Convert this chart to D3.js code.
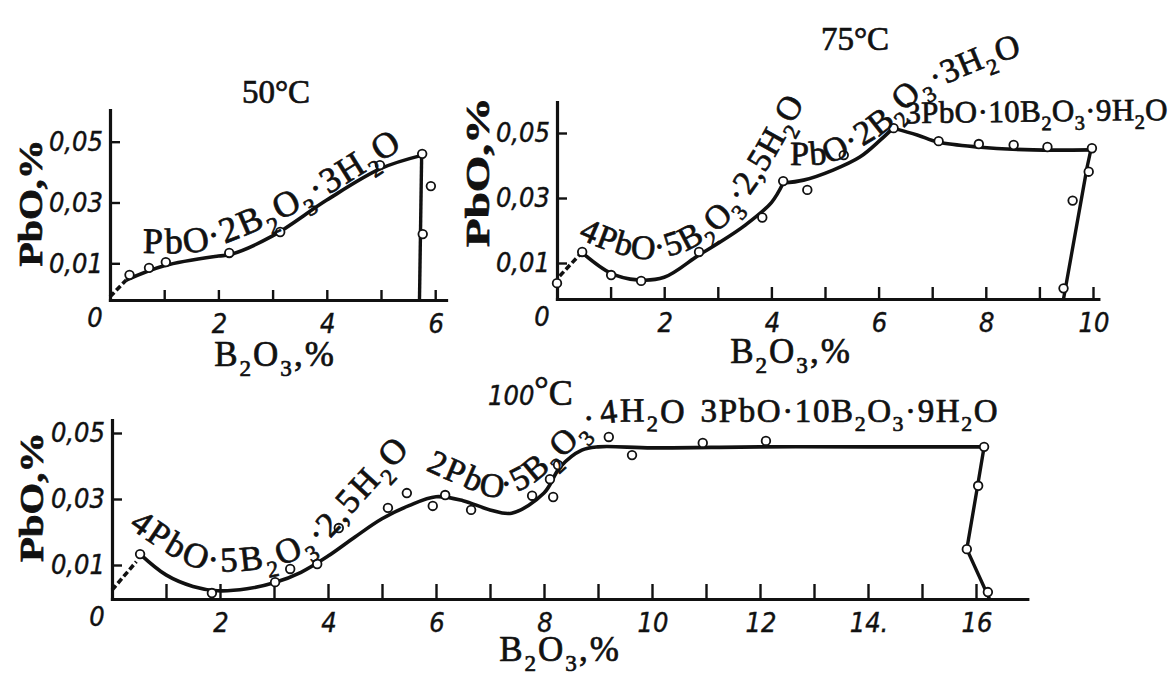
<!DOCTYPE html>
<html>
<head>
<meta charset="utf-8">
<script src="https://cdn.jsdelivr.net/npm/d3@7"></script>
<style>
  html, body { margin: 0; background: #fff; }
  svg { display: block; }
  .tick-lab { font-family: "DejaVu Sans Condensed", "Liberation Sans Narrow", "DejaVu Sans", sans-serif; font-stretch: condensed; font-style: italic; font-size: 27px; fill: #111; stroke: #111; stroke-width: 0.4; }
  .serif { font-family: "Liberation Serif", "DejaVu Serif", serif; fill: #111; stroke: #111; stroke-width: 0.7; }
</style>
</head>
<body>
<svg id="chart" width="1175" height="677"></svg>
<script>
// shared y ticks (PbO, %)
const yTickVals = [0.01, 0.03, 0.05];
const yTickLabels = ["0,01", "0,03", "0,05"];

// ---------- 50 °C ----------
const xTicks50 = [1, 2, 3, 4, 5, 6];
const xLabelVals50 = [0, 2, 4, 6];
const xLabels50 = ["0", "2", "4", "6"];
const points50 = [[0.36, 0.0062], [0.72, 0.0085], [1.03, 0.0104], [2.2, 0.0134], [3.14, 0.0203],
  [4.98, 0.0423], [5.76, 0.046], [5.92, 0.0354], [5.77, 0.0196]];
const lead50 = [[0.0, -0.001], [0.3, 0.0045]];
const curve50 = [[[0.3, 0.0045], [1.0, 0.0092], [2.0, 0.0124], [2.2, 0.0128], [3.0, 0.019],
  [4.0, 0.0308], [5.0, 0.0412], [5.75, 0.0455]]];
const drop50 = [[5.75, 0.0455], [5.71, -0.0021]];
const formulas50 = [
  { text: "PbO·2B_2O_3·3H_2O",
    path: [[0.61, 0.0134], [1.61, 0.0138], [2.21, 0.0171], [3.27, 0.0253], [4.24, 0.0348], [5.35, 0.0473], [5.63, 0.0506]] }
];

// ---------- 75 °C ----------
const xTicks75 = [1, 2, 3, 4, 5, 6, 7, 8, 9, 10];
const xLabelVals75 = [0, 2, 4, 6, 8, 10];
const xLabels75 = ["0", "2", "4", "6", "8", "10"];
const points75 = [[0, 0.0038], [0.47, 0.0134], [1.01, 0.0063], [1.57, 0.0045], [2.65, 0.0134],
  [3.83, 0.024], [4.22, 0.0352], [4.67, 0.0325], [5.35, 0.0432], [6.28, 0.0515], [7.12, 0.0475],
  [7.87, 0.0466], [8.52, 0.0463], [9.15, 0.0457], [9.98, 0.0453], [9.92, 0.0381], [9.62, 0.0292],
  [9.45, 0.0022]];
const lead75 = [[0.05, 0.006], [0.42, 0.0125]];
const curve75 = [
  [[0.46, 0.0133], [1.0, 0.0069], [1.5, 0.0048], [2.0, 0.0056], [2.65, 0.0125], [3.0, 0.016],
   [3.5, 0.0215], [4.0, 0.0286], [4.22, 0.0346]],
  [[4.22, 0.0346], [4.6, 0.0355], [5.15, 0.0386], [5.65, 0.0426], [6.03, 0.0478], [6.27, 0.0515]],
  [[6.27, 0.0515], [6.72, 0.0494], [7.11, 0.0472], [7.85, 0.0457], [8.88, 0.0448], [9.96, 0.0448]]
];
const drop75 = [[9.96, 0.0448], [9.89, 0.0395], [9.45, -0.0011]];
const formulas75 = [
  { text: "4PbO·5B_2O_3·2,5H_2O",
    path: [[0.39, 0.0177], [1.03, 0.0134], [1.7, 0.0112], [2.44, 0.014], [3.08, 0.0208], [3.6, 0.0309], [4.03, 0.0417], [4.53, 0.0565], [4.8, 0.064]] },
  { text: "PbO·2B_2O_3·3H_2O",
    path: [[4.35, 0.0402], [5.09, 0.0408], [5.65, 0.0454], [6.21, 0.0515], [6.77, 0.0608], [7.52, 0.0669], [8.26, 0.0718], [8.73, 0.074]] },
  { text: "3PbO·10B_2O_3·9H_2O",
    path: [[6.5, 0.053], [11.2, 0.054]] }
];

// ---------- 100 °C ----------
const xTicks100 = [1, 2, 3, 4, 5, 6, 7, 8, 9, 10, 11, 12, 13, 14, 15, 16];
const xLabelVals100 = [0, 2, 4, 6, 8, 10, 12, 14, 16];
const xLabels100 = ["0", "2", "4", "6", "8", "10", "12", "14.", "16"];
const points100 = [[0.52, 0.0133], [1.85, 0.0015], [3.02, 0.0048], [3.3, 0.0088], [3.8, 0.0103],
  [4.2, 0.0212], [5.11, 0.0273], [5.46, 0.0318], [5.94, 0.0279], [6.17, 0.0312], [6.65, 0.0267],
  [7.78, 0.031], [8.11, 0.036], [8.17, 0.0306], [8.26, 0.0403], [9.2, 0.0488], [9.63, 0.0433],
  [10.94, 0.047], [12.11, 0.0476], [16.15, 0.0458], [16.04, 0.034], [15.83, 0.0148], [16.22, 0.0018]];
const lead100 = [[0.0, 0.0024], [0.45, 0.011]];
const curve100 = [[[0.52, 0.0133], [1.0, 0.007], [1.5, 0.0035], [1.95, 0.0022], [2.5, 0.0028],
  [3.0, 0.0046], [3.5, 0.0078], [4.0, 0.0127], [4.5, 0.0185], [5.0, 0.024], [5.5, 0.028],
  [6.0, 0.0307], [6.5, 0.0295], [7.0, 0.0267], [7.4, 0.0257], [8.0, 0.0318], [8.3, 0.0397],
  [8.7, 0.0448], [9.0, 0.0458], [10.0, 0.0455], [12.0, 0.0458], [14.0, 0.0458], [16.15, 0.0458]]];
const drop100 = [[16.15, 0.0458], [16.03, 0.034], [15.83, 0.0148], [16.25, -0.0003]];
const formulas100 = [
  { text: "4PbO·5B_2O_3·2,5H_2O",
    path: [[0.3, 0.0215], [0.98, 0.0139], [1.63, 0.0088], [2.37, 0.0082], [3.3, 0.0109], [4.04, 0.0182], [4.59, 0.0282], [5.56, 0.0455]] },
  { text: "2PbO·5B_2O_3·4H_2O",
    path: [[5.8, 0.0388], [6.44, 0.0342], [7.09, 0.0306], [7.65, 0.0333], [8.11, 0.0388], [8.67, 0.0473], [9.04, 0.0524], [10.52, 0.053]] },
  { text: "3PbO·10B_2O_3·9H_2O",
    path: [[10.9, 0.0533], [16.9, 0.0533]] }
];

const svg = d3.select("#chart");
const defs = svg.append("defs");
const ink = "#111";

// text with chemical subscripts, "_2" -> subscript 2
function addFormula(parent, str, fs) {
  let wasSub = false;
  str.split(/(_\d)/).filter(s => s).forEach(s => {
    const isSub = s[0] === "_";
    const t = parent.append("tspan").text(isSub ? s.slice(1) : s);
    if (isSub) t.attr("font-size", fs * 0.66).attr("dy", fs * 0.28);
    else if (wasSub) t.attr("dy", -fs * 0.28);
    wasSub = isSub;
  });
}

let pathId = 0;

function drawPanel(p) {
  const g = svg.append("g");

  const x = d3.scaleLinear().domain([0, p.xEnd]).range([p.left, p.left + p.xEnd * p.ppu]);
  const vAxis = (p.zeroY - p.axisY) / p.pp01 * 0.01;
  const vTop = (p.zeroY - p.topY) / p.pp01 * 0.01;
  const y = d3.scaleLinear().domain([vAxis, vTop]).range([p.axisY, p.topY]);

  // axes, ticks pointing inward
  const gx = g.append("g").attr("transform", `translate(0,${p.axisY})`)
    .call(d3.axisBottom(x).tickValues(p.xTicks).tickSize(-p.tickLen).tickSizeOuter(0).tickFormat(""));
  const gy = g.append("g").attr("transform", `translate(${p.left},0)`)
    .call(d3.axisLeft(y).tickValues(yTickVals).tickSize(-10).tickSizeOuter(0).tickFormat(""));
  [gx, gy].forEach(a => {
    a.select(".domain").attr("stroke", ink).attr("stroke-width", 3.2).attr("stroke-linecap", "square");
    a.selectAll(".tick line").attr("stroke", ink).attr("stroke-width", 2.4);
  });

  // tick labels
  g.selectAll(".xlab").data(p.xLabelVals).join("text")
    .attr("class", "tick-lab")
    .attr("x", d => d === 0 ? x(d) - 15 : x(d) + 1)
    .attr("y", d => d === 0 ? p.axisY + 18 : p.axisY + 24)
    .attr("text-anchor", "middle").attr("dy", "0.35em")
    .text((d, i) => p.xLabels[i]);

  g.selectAll(".ylab").data(yTickVals).join("text")
    .attr("class", "tick-lab")
    .attr("x", p.left - 7).attr("y", d => y(d))
    .attr("text-anchor", "end").attr("dy", "0.35em")
    .text((d, i) => yTickLabels[i]);

  // curves
  const smooth = d3.line().x(d => x(d[0])).y(d => y(d[1])).curve(d3.curveCatmullRom.alpha(0.5));
  const straight = d3.line().x(d => x(d[0])).y(d => y(d[1]));

  p.curves.forEach(c => g.append("path").attr("d", smooth(c))
    .attr("fill", "none").attr("stroke", ink).attr("stroke-width", 3.6).attr("stroke-linejoin", "round"));
  g.append("path").attr("d", straight(p.drop))
    .attr("fill", "none").attr("stroke", ink).attr("stroke-width", 3.4).attr("stroke-linejoin", "round");
  g.append("path").attr("d", straight(p.lead))
    .attr("fill", "none").attr("stroke", ink).attr("stroke-width", 3.6).attr("stroke-dasharray", "6,3");

  g.selectAll(".pt").data(p.points).join("circle")
    .attr("cx", d => x(d[0])).attr("cy", d => y(d[1])).attr("r", 4.3)
    .attr("fill", "#fff").attr("stroke", ink).attr("stroke-width", 1.8);

  // phase labels along the curves
  p.formulas.forEach((f, i) => {
    const id = "fp" + (pathId++);
    defs.append("path").attr("id", id).attr("d", smooth(f.path));
    const st = p.formulaStyle[i];
    const t = g.append("text").attr("class", "serif")
      .attr("font-size", st.fs).attr("letter-spacing", st.ls);
    const tp = t.append("textPath").attr("href", "#" + id);
    addFormula(tp, f.text, st.fs);
  });

  // axis titles
  const xt = g.append("text").attr("class", "serif").attr("font-size", 35)
    .attr("x", p.xTitle[0]).attr("y", p.xTitle[1]).attr("text-anchor", "middle")
    .attr("letter-spacing", 2);
  addFormula(xt, "B_2O_3,%", 35);

  g.append("text").attr("class", "serif").attr("font-size", 34).attr("font-weight", "bold")
    .attr("transform", `translate(${p.yTitle[0]},${p.yTitle[1]}) rotate(-90)`)
    .attr("text-anchor", "middle").attr("dy", "0.35em")
    .attr("textLength", p.yTitle[2]).attr("lengthAdjust", "spacingAndGlyphs")
    .text("PbO,%");
}

drawPanel({
  left: 110, ppu: 54.2, xEnd: 6.2, zeroY: 293.7, pp01: 30.4, axisY: 300, topY: 110, tickLen: 10,
  xTicks: xTicks50, xLabelVals: xLabelVals50, xLabels: xLabels50,
  points: points50, lead: lead50, curves: curve50, drop: drop50,
  formulas: formulas50, formulaStyle: [{ fs: 36, ls: 1.8 }],
  xTitle: [275, 366], yTitle: [30, 203, 127]
});

drawPanel({
  left: 557, ppu: 53.6, xEnd: 10.1, zeroY: 295.5, pp01: 32.5, axisY: 299, topY: 102, tickLen: 12,
  xTicks: xTicks75, xLabelVals: xLabelVals75, xLabels: xLabels75,
  points: points75, lead: lead75, curves: curve75, drop: drop75,
  formulas: formulas75, formulaStyle: [{ fs: 34, ls: 1 }, { fs: 34, ls: 1.2 }, { fs: 31, ls: 0.4 }],
  xTitle: [791, 363], yTitle: [477, 172, 150]
});

drawPanel({
  left: 112, ppu: 54, xEnd: 16.95, zeroY: 598, pp01: 33, axisY: 599, topY: 420, tickLen: 15,
  xTicks: xTicks100, xLabelVals: xLabelVals100, xLabels: xLabels100,
  points: points100, lead: lead100, curves: curve100, drop: drop100,
  formulas: formulas100, formulaStyle: [{ fs: 35, ls: 2.6 }, { fs: 34, ls: 1.8 }, { fs: 33, ls: 1.6 }],
  xTitle: [560, 661], yTitle: [31, 497, 130]
});

// temperature captions
svg.append("text").attr("class", "serif").attr("font-size", 33)
  .attr("x", 276).attr("y", 103).attr("text-anchor", "middle").text("50°C");
svg.append("text").attr("class", "serif").attr("font-size", 33)
  .attr("x", 855).attr("y", 50).attr("text-anchor", "middle").text("75°C");
const t100 = svg.append("text").attr("x", 488).attr("y", 405);
t100.append("tspan").attr("class", "tick-lab").attr("font-size", 29).text("100");
t100.append("tspan").attr("class", "serif").attr("font-size", 36).attr("dy", -4).text("°");
t100.append("tspan").attr("class", "serif").attr("font-size", 36).attr("dy", 4).text("C");
</script>
</body>
</html>
